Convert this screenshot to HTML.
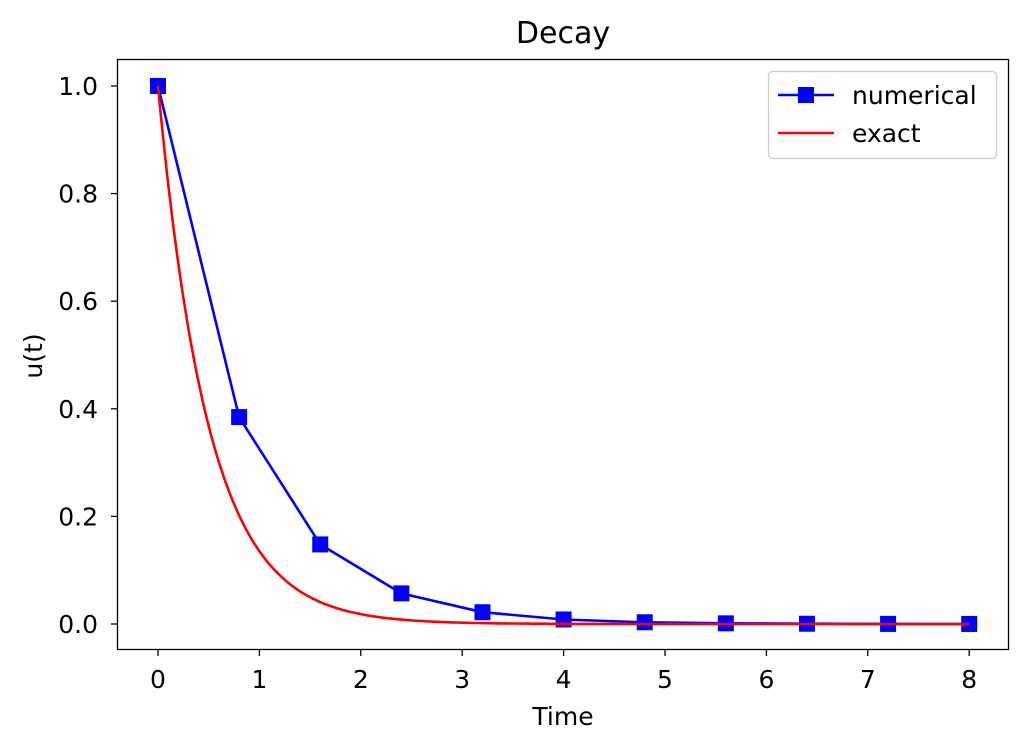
<!DOCTYPE html>
<html><head><meta charset="utf-8"><style>
html,body{margin:0;padding:0;background:#fff;}
svg text{font-family:"DejaVu Sans","Liberation Sans",sans-serif;fill:#000;}
</style></head><body>
<svg id="s" width="1029" height="751" viewBox="0 0 1029 751" xmlns="http://www.w3.org/2000/svg">
<rect width="1029" height="751" fill="#fff"/>
<g id="plot"></g>
<rect x="117.5" y="59.5" width="891" height="590" fill="none" stroke="#000" stroke-width="1.3"/>
<text x="563" y="43" font-size="30" text-anchor="middle">Decay</text>
<text x="563" y="725" font-size="25" text-anchor="middle">Time</text>
<text transform="translate(42,356) rotate(-90)" font-size="25" text-anchor="middle">u(t)</text>
<g id="ticks" font-size="25"></g>
<rect x="768.5" y="71.5" width="228" height="87" rx="4" fill="#fff" fill-opacity="0.8" stroke="#ccc" stroke-width="1.3"/>
<line x1="778" y1="95" x2="834" y2="95" stroke="#0000ff" stroke-width="2.6"/>
<rect x="798" y="87" width="16" height="16" fill="#0000ff"/>
<text x="852" y="104" font-size="25">numerical</text>
<line x1="778" y1="133" x2="834" y2="133" stroke="#ff0000" stroke-width="2.6"/>
<text x="852" y="142" font-size="25">exact</text>
</svg>
<script>
var X=function(t){return 158+t*101.4},Y=function(u){return 624-u*538};
var g=document.getElementById('plot'),tk=document.getElementById('ticks'),ns='http://www.w3.org/2000/svg';
function el(p,n,a,txt){var e=document.createElementNS(ns,n);for(var k in a)e.setAttribute(k,a[k]);if(txt!=null)e.textContent=txt;p.appendChild(e);return e;}
for(var i=0;i<=8;i++){el(tk,'line',{x1:X(i),x2:X(i),y1:649.5,y2:656,stroke:'#000','stroke-width':1.3});el(tk,'text',{x:X(i),y:688,'text-anchor':'middle'},i);}
for(var j=0;j<=5;j++){var v=j*0.2;el(tk,'line',{x1:111,x2:117.5,y1:Y(v),y2:Y(v),stroke:'#000','stroke-width':1.3});el(tk,'text',{x:98,y:Y(v)+9,'text-anchor':'end'},v.toFixed(1));}
var pts=[];for(var t=0;t<=8.0001;t+=0.02)pts.push(X(t).toFixed(1)+','+Y(Math.exp(-2*t)).toFixed(1));
var np=[],u=1;for(var k=0;k<=10;k++){np.push([X(k*0.8),Y(u)]);u=u/2.6;}
el(g,'polyline',{points:np.map(function(p){return p[0].toFixed(1)+','+p[1].toFixed(1)}).join(' '),fill:'none',stroke:'#0000ff','stroke-width':2.6});
np.forEach(function(p){el(g,'rect',{x:p[0]-8,y:p[1]-8,width:16,height:16,fill:'#0000ff'});});
el(g,'polyline',{points:pts.join(' '),fill:'none',stroke:'#ff0000','stroke-width':2.6});
</script>
</body></html>
